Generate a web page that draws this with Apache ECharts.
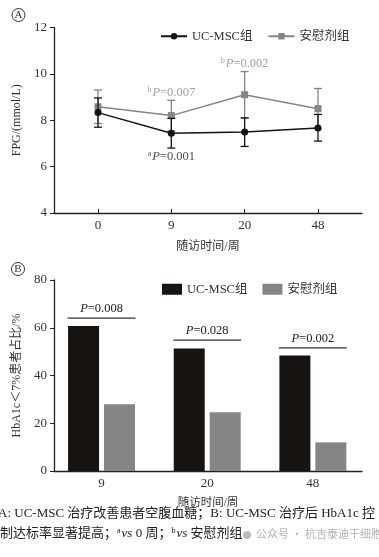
<!DOCTYPE html>
<html><head><meta charset="utf-8">
<script src="https://cdn.jsdelivr.net/npm/echarts@6/dist/echarts.min.js"></script>
<style>html,body{margin:0;padding:0;background:#fff;width:379px;height:557px;overflow:hidden}
#a{position:absolute;left:0;top:0;width:379px;height:258px}
#b{position:absolute;left:0;top:258px;width:379px;height:299px}</style>
</head><body><div id="a"></div><div id="b"></div>
<script>
// ---- data ----
var weeks = ['0', '9', '20', '48'];
var mscMean = [8.33, 7.44, 7.49, 7.67];
var mscLow  = [7.70, 6.80, 6.87, 7.10];
var mscHigh = [8.96, 8.08, 8.10, 8.25];
var plaMean = [8.58, 8.20, 9.10, 8.50];
var plaLow  = [7.86, 7.54, 8.10, 7.63];
var plaHigh = [9.30, 8.86, 10.10, 9.37];
var noteA = [ {x:1, y:9.2, sup:'b', text:'=0.007', grey:true},
              {x:2, y:10.42, sup:'b', text:'=0.002', grey:true},
              {x:1, y:6.42, sup:'a', text:'=0.001', grey:false} ];
var weeksB = ['9', '20', '48'];
var mscRate = [60.7, 51.3, 48.4];
var plaRate = [28.0, 24.6, 12.0];
var pB = ['=0.008', '=0.028', '=0.002'];
var pLineB = [64.0, 54.8, 51.6];

var SERIF = '"Liberation Serif","Noto Sans CJK SC",serif';
var TXT = '#333';
var BLACK = '#161311', GREY = '#858585';

function idx(arr){ return arr.map(function(v,i){ return [i, v]; }); }
function errRender(color){
  return function(params, api){
    var x = api.value(0);
    var a = api.coord([x, api.value(1)]), b = api.coord([x, api.value(2)]);
    var w = 4;
    var st = {stroke: color, lineWidth: 1.3};
    return {type:'group', children:[
      {type:'line', shape:{x1:a[0],y1:a[1],x2:b[0],y2:b[1]}, style:st},
      {type:'line', shape:{x1:a[0]-w,y1:a[1],x2:a[0]+w,y2:a[1]}, style:st},
      {type:'line', shape:{x1:b[0]-w,y1:b[1],x2:b[0]+w,y2:b[1]}, style:st}
    ]};
  };
}

var chartA = echarts.init(document.getElementById('a'));
chartA.setOption({
  animation:false,
  textStyle:{fontFamily:SERIF},
  grid:{left:54, right:17, top:27.5, bottom:39},
  legend:{left:155, top:25, itemWidth:26, itemHeight:8, itemGap:15,
    textStyle:{fontFamily:SERIF, fontSize:12.5, color:TXT},
    data:['UC-MSC组','安慰剂组']},
  xAxis:{type:'value', min:-0.6, max:3.6,
    name:'随访时间/周', nameLocation:'middle', nameGap:28,
    nameTextStyle:{fontFamily:SERIF, fontSize:12, color:TXT},
    axisLine:{onZero:false, lineStyle:{color:'#222', width:1.3}},
    axisTick:{show:true, inside:true, length:4, customValues:[0,1,2,3], lineStyle:{color:'#222'}},
    axisLabel:{customValues:[0,1,2,3], margin:6, fontSize:13, color:TXT, fontFamily:SERIF,
      formatter:function(v){ return weeks[Math.round(v)]; }},
    splitLine:{show:false}},
  yAxis:{type:'value', min:4, max:12, interval:2,
    name:'FPG/(mmol/L)', nameLocation:'middle', nameGap:28, nameRotate:90,
    nameTextStyle:{fontFamily:SERIF, fontSize:12, color:TXT},
    axisLine:{show:true, onZero:false, lineStyle:{color:'#222', width:1.3}},
    axisTick:{show:true, length:4, lineStyle:{color:'#222'}},
    axisLabel:{margin:7, fontSize:13, color:TXT, fontFamily:SERIF},
    splitLine:{show:false}},
  series:[
    {type:'custom', name:'errP', renderItem:errRender(GREY), z:1,
      data: plaLow.map(function(v,i){ return [i, plaLow[i], plaHigh[i]]; })},
    {type:'line', name:'安慰剂组', data:idx(plaMean), symbol:'rect', symbolSize:7, z:2,
      itemStyle:{color:GREY}, lineStyle:{color:GREY, width:1.5}},
    {type:'custom', name:'errM', renderItem:errRender(BLACK), z:3,
      data: mscLow.map(function(v,i){ return [i, mscLow[i], mscHigh[i]]; })},
    {type:'line', name:'UC-MSC组', data:idx(mscMean), symbol:'circle', symbolSize:7, z:4,
      itemStyle:{color:BLACK}, lineStyle:{color:BLACK, width:1.5}},
    {type:'scatter', name:'notes', symbolSize:0, z:5,
      data: noteA.map(function(n){ return {value:[n.x, n.y], grey:n.grey, sup:n.sup, txt:n.text}; }),
      label:{show:true, position:'inside',
        formatter:function(p){ var d=p.data; var k=d.grey?'g':'k';
          return '{'+k+'s|'+d.sup+'}{'+k+'i|P}{'+k+'|'+d.txt+'}'; },
        rich:{
          g:{fontFamily:SERIF, fontSize:12.5, color:'#888'},
          gi:{fontFamily:SERIF, fontSize:12.5, color:'#888', fontStyle:'italic'},
          gs:{fontFamily:SERIF, fontSize:8, color:'#888', verticalAlign:'top', padding:[0,1,6,0]},
          k:{fontFamily:SERIF, fontSize:12.5, color:'#222'},
          ki:{fontFamily:SERIF, fontSize:12.5, color:'#222', fontStyle:'italic'},
          ks:{fontFamily:SERIF, fontSize:8, color:'#222', verticalAlign:'top', padding:[0,1,6,0]}
        }}}
  ],
  graphic:[
    {type:'circle', shape:{cx:18.5, cy:15, r:6.5}, style:{fill:'none', stroke:'#333', lineWidth:1}},
    {type:'text', x:18.5, y:15, style:{text:'A', fontFamily:SERIF, fontSize:11, fill:'#333', align:'center', verticalAlign:'middle'}}
  ]
});

var chartB = echarts.init(document.getElementById('b'));
chartB.setOption({
  animation:false,
  textStyle:{fontFamily:SERIF},
  grid:{left:54, right:17, top:22, bottom:86},
  legend:{left:157, top:20, itemWidth:20, itemHeight:11, itemGap:15, icon:'rect',
    textStyle:{fontFamily:SERIF, fontSize:12.5, color:TXT},
    data:['UC-MSC组','安慰剂组']},
  xAxis:{type:'value', min:-0.45, max:2.465,
    name:'随访时间/周', nameLocation:'middle', nameGap:26,
    nameTextStyle:{fontFamily:SERIF, fontSize:11.5, color:TXT},
    axisLine:{onZero:false, lineStyle:{color:'#222', width:1.3}},
    axisTick:{show:false},
    axisLabel:{customValues:[0,1,2], margin:6, fontSize:13, color:TXT, fontFamily:SERIF,
      formatter:function(v){ return weeksB[Math.round(v)]; }},
    splitLine:{show:false}},
  yAxis:{type:'value', min:0, max:80, interval:20,
    name:'HbA1c＜7%患者占比/%', nameLocation:'middle', nameGap:28, nameRotate:90,
    nameTextStyle:{fontFamily:SERIF, fontSize:12, color:TXT},
    axisLine:{show:true, onZero:false, lineStyle:{color:'#222', width:1.3}},
    axisTick:{show:true, length:4, lineStyle:{color:'#222'}},
    axisLabel:{margin:7, fontSize:13, color:TXT, fontFamily:SERIF},
    splitLine:{show:false}},
  series:[
    {type:'bar', name:'UC-MSC组', data:idx(mscRate), barWidth:31, barGap:'16%', itemStyle:{color:BLACK}},
    {type:'bar', name:'安慰剂组', data:idx(plaRate), barWidth:31, barGap:'16%', itemStyle:{color:GREY}},
    {type:'custom', name:'pvals', z:5,
      data: pLineB.map(function(v,i){ return [i, v]; }),
      renderItem:function(params, api){
        var c = api.coord([api.value(0), api.value(1)]);
        var i = params.dataIndex;
        return {type:'group', children:[
          {type:'line', shape:{x1:c[0]-34, y1:c[1], x2:c[0]+34, y2:c[1]}, style:{stroke:'#333', lineWidth:1.2}},
          {type:'text', x:c[0], y:c[1]-3, style:{
            text:'{i|P}{n|'+pB[i]+'}', align:'center', verticalAlign:'bottom',
            rich:{i:{fontFamily:SERIF, fontSize:12.5, fontStyle:'italic', fill:'#222'},
                  n:{fontFamily:SERIF, fontSize:12.5, fill:'#222'}}}}
        ]};
      }}
  ],
  graphic:[
    {type:'circle', shape:{cx:18, cy:11, r:6.5}, style:{fill:'none', stroke:'#333', lineWidth:1}},
    {type:'text', x:18, y:11, style:{text:'B', fontFamily:SERIF, fontSize:11, fill:'#333', align:'center', verticalAlign:'middle'}},
    {type:'text', x:-2, y:256, style:{text:'A: UC-MSC 治疗改善患者空腹血糖；B: UC-MSC 治疗后 HbA1c 控',
      fontFamily:SERIF, fontSize:13, fill:'#222', verticalAlign:'middle'}},
    {type:'text', x:0, y:276, style:{
      text:'制达标率显著提高；{s|a}{i|vs} 0 周；{s|b}{i|vs} 安慰剂组',
      fontFamily:SERIF, fontSize:13, fill:'#222', verticalAlign:'middle',
      rich:{s:{fontSize:8, verticalAlign:'top', padding:[0,1,6,0], fontFamily:SERIF, fill:'#222'},
            i:{fontStyle:'italic', fontSize:13, fontFamily:SERIF, fill:'#222'}}}},
    {type:'circle', shape:{cx:247, cy:277, r:4}, style:{fill:'#bbb'}},
    {type:'text', x:256, y:276, style:{text:'公众号 · 杭吉泰迪干细胞',
      fontFamily:'"Noto Sans CJK SC",sans-serif', fontSize:11, fill:'#b5b5b5', verticalAlign:'middle'}}
  ]
});
</script></body></html>
